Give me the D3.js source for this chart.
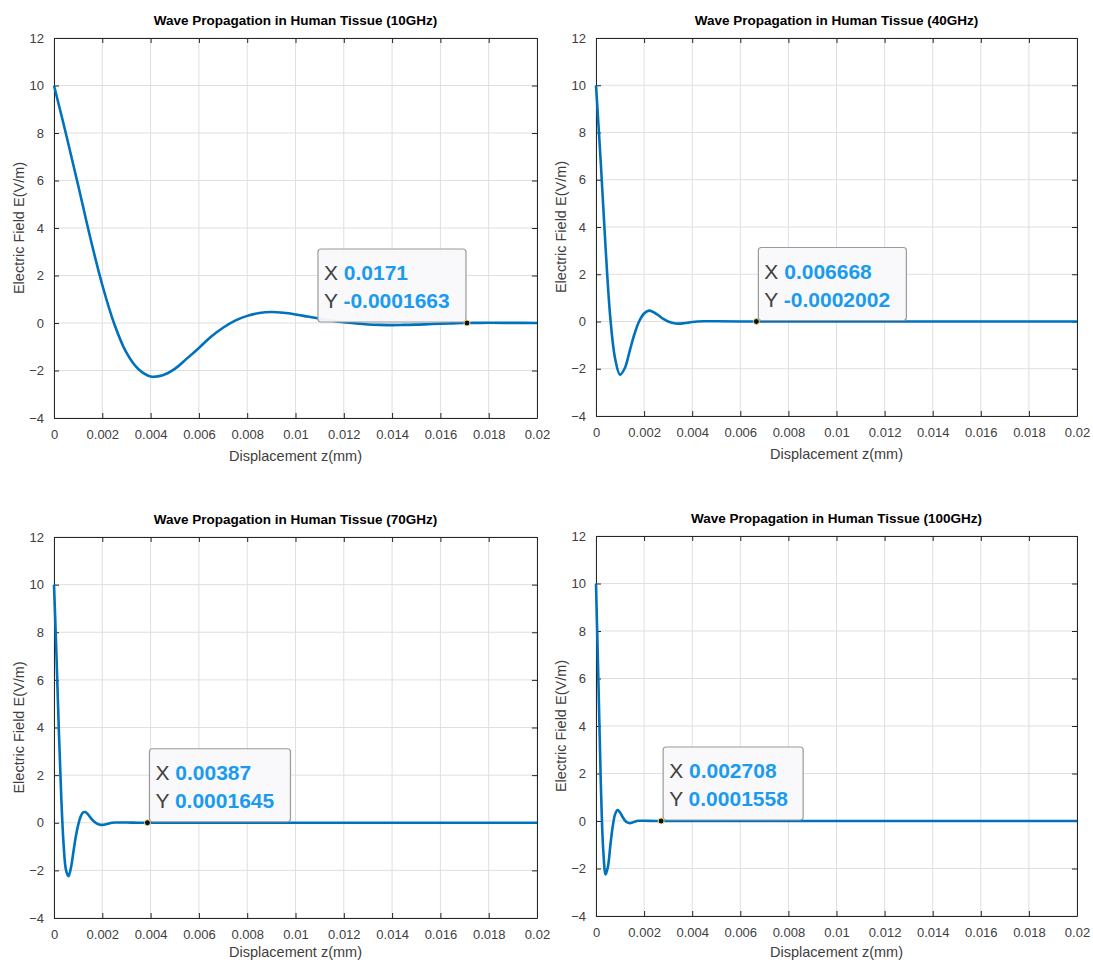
<!DOCTYPE html>
<html><head><meta charset="utf-8">
<script src="https://cdn.jsdelivr.net/npm/d3@7"></script>
<style>
body{margin:0;background:#fff;}
svg{display:block;font-family:"Liberation Sans",Arial,Helvetica,sans-serif;}
</style></head>
<body><svg id="chart" width="1093" height="962"></svg>
<script>
// ---- data ----
const titles = ["Wave Propagation in Human Tissue (10GHz)","Wave Propagation in Human Tissue (40GHz)","Wave Propagation in Human Tissue (70GHz)","Wave Propagation in Human Tissue (100GHz)"];
const xTicks = [0,0.002,0.004,0.006,0.008,0.01,0.012,0.014,0.016,0.018,0.02];
const yTicks = [-4,-2,0,2,4,6,8,10,12];

const z10 = [0,0.0005,0.001,0.0015,0.002,0.0025,0.003,0.0035,0.004,0.0045,0.005,0.0055,0.006,0.0065,0.007,0.0075,0.008,0.0085,0.009,0.0095,0.01,0.0105,0.011,0.0115,0.012,0.0125,0.013,0.0135,0.014,0.0145,0.015,0.0155,0.016,0.0165,0.017,0.0175,0.018,0.019,0.02];
const e10 = [10,7.95,5.8,3.6,1.6,-0.05,-1.25,-1.95,-2.25,-2.2,-1.93,-1.5,-1.05,-0.58,-0.2,0.1,0.3,0.42,0.46,0.43,0.36,0.27,0.18,0.1,0.03,-0.02,-0.06,-0.08,-0.09,-0.08,-0.07,-0.05,-0.03,-0.015,0,0.005,0.008,0.005,0.003];

const z40 = [0,0.0002,0.0004,0.0006,0.0008,0.001,0.0012,0.0014,0.0016,0.0018,0.002,0.0022,0.0024,0.0026,0.0028,0.003,0.0032,0.0034,0.0036,0.0038,0.004,0.0045,0.005,0.006,0.008,0.01,0.015,0.02];
const e40 = [10,6.7,3.1,0.1,-1.6,-2.25,-1.97,-1.25,-0.53,0.02,0.34,0.46,0.39,0.26,0.11,0.0,-0.06,-0.09,-0.08,-0.05,-0.02,0.01,0.01,0,0,0,0,0];

const z70 = [0,0.0001,0.0002,0.0003,0.0004,0.0005,0.0006,0.0007,0.0008,0.0009,0.001,0.0011,0.0012,0.0013,0.0014,0.0015,0.0016,0.0017,0.0018,0.0019,0.002,0.0022,0.0024,0.0026,0.003,0.0035,0.004,0.006,0.01,0.015,0.02];
const e70 = [10,7.1,3.9,1.1,-0.95,-2.0,-2.24,-1.9,-1.25,-0.6,-0.1,0.25,0.43,0.45,0.36,0.23,0.11,0.02,-0.05,-0.08,-0.09,-0.05,0,0.01,0.01,0,0,0,0,0,0];

const z100 = [0,0.0001,0.0002,0.0003,0.0004,0.0005,0.0006,0.0007,0.0008,0.0009,0.001,0.0011,0.0012,0.0013,0.0014,0.0015,0.0016,0.0017,0.0018,0.002,0.0025,0.003,0.005,0.01,0.015,0.02];
const e100 = [10,5.9,1.6,-1.2,-2.25,-1.9,-1.0,-0.2,0.3,0.46,0.36,0.18,0.03,-0.06,-0.09,-0.07,-0.03,0,0.01,0.01,0,0,0,0,0,0];

const tipX = [0.0171,0.006668,0.00387,0.002708];
const tipY = [-0.0001663,-0.0002002,0.0001645,0.0001558];
const tipXText = ["0.0171","0.006668","0.00387","0.002708"];
const tipYText = ["-0.0001663","-0.0002002","0.0001645","0.0001558"];

const seriesZ = [z10,z40,z70,z100];
const seriesE = [e10,e40,e70,e100];

// ---- layout ----
const panels = [
  {l:54,r:537,t:38,b:418, tip:"left", xl:43},
  {l:596,r:1077,t:38,b:416, tip:"right", xl:43},
  {l:54,r:537,t:537,b:918, tip:"right", xl:39},
  {l:596,r:1077,t:536,b:916, tip:"right", xl:41}
];

const svg = d3.select("#chart");
const blue = "#0072BD";
const axisCol = "#262626";

panels.forEach((p,i)=>{
  const x = d3.scaleLinear().domain([0,0.02]).range([p.l,p.r]);
  const y = d3.scaleLinear().domain([-4,12]).range([p.b,p.t]);
  const g = svg.append("g");

  // grid
  g.append("g").selectAll("line").data(xTicks).join("line")
    .attr("x1",d=>x(d)).attr("x2",d=>x(d)).attr("y1",p.t).attr("y2",p.b)
    .attr("stroke","#dfdfdf").attr("stroke-width",1);
  g.append("g").selectAll("line").data(yTicks).join("line")
    .attr("y1",d=>y(d)).attr("y2",d=>y(d)).attr("x1",p.l).attr("x2",p.r)
    .attr("stroke","#dfdfdf").attr("stroke-width",1);

  // axes (MATLAB style: inward ticks, box)
  const xa = d3.axisBottom(x).tickValues(xTicks).tickSizeInner(-5).tickSizeOuter(0).tickPadding(12)
    .tickFormat(d=>d===0?"0":d3.format("")(+d.toPrecision(3)));
  const xAxG = g.append("g").attr("transform",`translate(0,${p.b})`).call(xa);
  const xTop = d3.axisTop(x).tickValues(xTicks).tickSizeInner(-5).tickSizeOuter(0).tickFormat("");
  const xTopG = g.append("g").attr("transform",`translate(0,${p.t})`).call(xTop);
  const ya = d3.axisLeft(y).tickValues(yTicks).tickSizeInner(-5).tickSizeOuter(0).tickPadding(10);
  const yAxG = g.append("g").attr("transform",`translate(${p.l},0)`).call(ya);
  const yRight = d3.axisRight(y).tickValues(yTicks).tickSizeInner(-5).tickSizeOuter(0).tickFormat("");
  const yRG = g.append("g").attr("transform",`translate(${p.r},0)`).call(yRight);
  [xAxG,xTopG,yAxG,yRG].forEach(a=>{
    a.select(".domain").attr("stroke",axisCol).attr("stroke-width",1);
    a.selectAll(".tick line").attr("stroke",axisCol);
    a.selectAll("text").attr("fill","#404040").attr("font-size",13);
  });

  // curve
  const data = seriesZ[i].map((z,k)=>({z:z,e:seriesE[i][k]}));
  g.append("path").datum(data)
    .attr("fill","none").attr("stroke",blue).attr("stroke-width",2.6)
    .attr("stroke-linejoin","round")
    .attr("d",d3.line().x(d=>x(d.z)).y(d=>y(d.e)).curve(d3.curveCatmullRom.alpha(0.5)));

  // title
  g.append("text").attr("x",(p.l+p.r)/2).attr("y",p.t-13).attr("text-anchor","middle")
    .attr("font-weight","bold").attr("font-size",13.5).attr("fill","#000").text(titles[i]);
  // x label
  g.append("text").attr("x",(p.l+p.r)/2).attr("y",p.b+p.xl).attr("text-anchor","middle")
    .attr("font-size",14.5).attr("fill","#404040").text("Displacement z(mm)");
  // y label
  g.append("text").attr("transform",`translate(${p.l-30},${(p.t+p.b)/2}) rotate(-90)`)
    .attr("text-anchor","middle").attr("font-size",14.5).attr("fill","#404040").text("Electric Field E(V/m)");

  // data tip
  const px = x(tipX[i]), py = y(tipY[i]);
  const bw = [148,148,141,140][i], bh = 73;
  const bx = p.tip==="left" ? px-bw-1 : px+2;
  const by = py-bh-1;
  g.append("rect").attr("x",bx).attr("y",by).attr("width",bw).attr("height",bh).attr("rx",3)
    .attr("fill","#f9f9fc").attr("fill-opacity",0.95).attr("stroke","#9a9a9a").attr("stroke-width",1.2);
  const tx = g.append("text").attr("x",bx+6).attr("y",by+31).attr("font-size",21);
  tx.append("tspan").attr("fill","#404040").text("X ");
  tx.append("tspan").attr("fill","#1a9bf0").attr("font-weight","bold").text(tipXText[i]);
  const ty = g.append("text").attr("x",bx+6).attr("y",by+59).attr("font-size",21);
  ty.append("tspan").attr("fill","#404040").text("Y ");
  ty.append("tspan").attr("fill","#1a9bf0").attr("font-weight","bold").text(tipYText[i]);
  g.append("circle").attr("cx",px).attr("cy",py).attr("r",3)
    .attr("fill","#111").attr("stroke","#e8e0a0").attr("stroke-width",1);
});
</script></body></html>
